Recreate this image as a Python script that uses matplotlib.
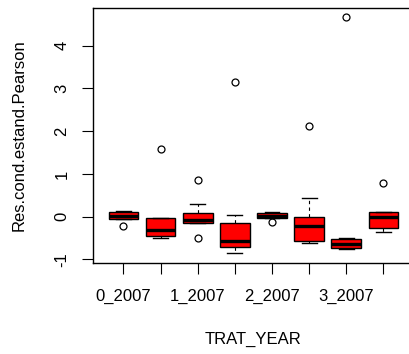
import matplotlib
matplotlib.use("Agg")
import matplotlib.pyplot as plt

plt.rcParams.update({"font.family": ["Liberation Sans", "DejaVu Sans"], "font.size": 12})

# groups (R only prints every other label)
groups = ["0_2007", "0_2008", "1_2007", "1_2008", "2_2007", "2_2008", "3_2007", "3_2008"]
shown_labels = ["0_2007", "", "1_2007", "", "2_2007", "", "3_2007", ""]

med = [0.02, -0.30, -0.08, -0.56, 0.02, -0.22, -0.64, 0.00]
q1 = [-0.05, -0.45, -0.14, -0.70, -0.02, -0.58, -0.73, -0.27]
q3 = [0.10, -0.03, 0.09, -0.15, 0.09, 0.00, -0.53, 0.10]
whislo = [-0.05, -0.50, -0.15, -0.86, -0.02, -0.61, -0.76, -0.35]
whishi = [0.13, -0.03, 0.29, 0.03, 0.10, 0.44, -0.50, 0.10]
fliers = [[-0.22], [1.58], [0.85, -0.51], [3.16], [-0.12], [2.12], [4.68], [0.79]]

stats = []
for i, g in enumerate(groups):
    stats.append({"label": g, "med": med[i], "q1": q1[i], "q3": q3[i],
                  "whislo": whislo[i], "whishi": whishi[i], "fliers": fliers[i]})

fig = plt.figure(figsize=(4.09, 3.54), dpi=100)
# the right side of the R plot box falls outside the image
ax = fig.add_axes([93 / 409, 1 - 262.7 / 354, 320.8 / 409, 254.7 / 354])

ax.bxp(stats, positions=range(1, 9), widths=0.8, patch_artist=True,
       boxprops=dict(facecolor="#ff0000", edgecolor="black", linewidth=1),
       medianprops=dict(color="black", linewidth=2.4, solid_capstyle="butt"),
       whiskerprops=dict(color="black", linewidth=0.8, linestyle=(0, (3, 3))),
       capprops=dict(color="black", linewidth=1),
       capwidths=0.4,
       flierprops=dict(marker="o", markerfacecolor="none", markeredgecolor="black",
                       markersize=5, markeredgewidth=0.9))

ax.set_xlim(0.18, 8.82)
ax.set_ylim(-1.076, 4.88)
ax.set_xticks(range(1, 9))
ax.set_xticklabels(shown_labels)
ax.set_yticks([-1, 0, 1, 2, 3, 4])
ax.set_yticklabels(["-1", "0", "1", "2", "3", "4"], rotation=90, va="center")
ax.tick_params(length=8, width=0.8, color="black")
ax.tick_params(axis="y", pad=9)
ax.tick_params(axis="x", pad=11)
for s in ax.spines.values():
    s.set_linewidth(1)

ax.set_xlabel("TRAT_YEAR", labelpad=20)
ax.set_ylabel("Res.cond.estand.Pearson", labelpad=20)

fig.savefig("out.png", dpi=100)
